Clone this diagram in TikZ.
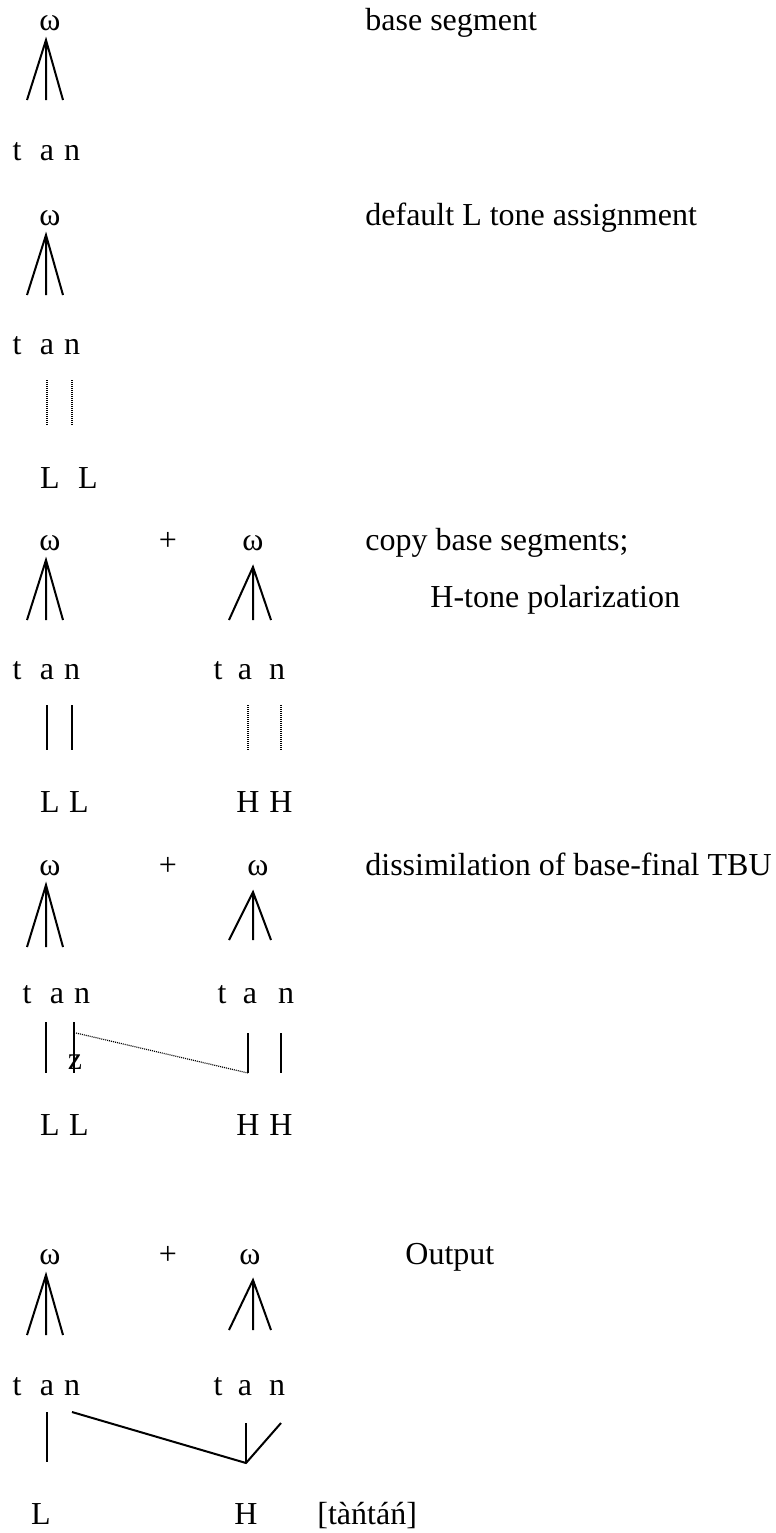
\documentclass[tikz,border=0pt]{standalone}
\usepackage{fontspec}
\setmainfont{Liberation Serif}
\begin{document}
\begin{tikzpicture}[x=0.5pt,y=-0.5pt,
    every node/.style={inner sep=0pt,anchor=base,font=\fontsize{16}{19}\selectfont},
    leg/.style={line width=1pt},
    tie/.style={line width=1pt,shorten <=13pt,shorten >=31pt},
    dottie/.style={tie,line width=0.6pt,dash pattern=on 0.5pt off 0.5pt}]
    \useasboundingbox (0,0) rectangle (776,1533);
    % omega, plus, segments, tones
    \foreach \n/\x/\y in {w1/50/30, w2/50/225, w3/50/550, w3r/253/550, w4/50/875, w4r/258/875, w5/50/1264, w5r/250/1264} {%
      \node (\n) at (\x,\y) {ω};%
    }
    \foreach \n/\y in {p3/550, p4/875, p5/1264} {%
      \node (\n) at (168,\y) {+};%
    }
    \foreach \s/\x/\y in {1/0/160, 2/0/354, 3/0/679, 4/10/1003, 5/0/1395} {%
      \node (t\s) at (17+\x,\y) {t};%
      \node (a\s) at (47+\x,\y) {a};%
      \node (n\s) at (72+\x,\y) {n};%
    }
    \foreach \s/\xt/\xa/\xn/\y in {3/218/245/277/679, 4/222/250/286/1003, 5/218/245/277/1395} {%
      \node (t\s r) at (\xt,\y) {t};%
      \node (a\s r) at (\xa,\y) {a};%
      \node (n\s r) at (\xn,\y) {n};%
    }
    \foreach \n/\x/\y/\t in {L2a/50/488/L, L2b/88/488/L, L3a/50/812/L, L3b/79/812/L, H3a/248/812/H, H3b/281/812/H,
        L4a/50/1135/L, L4b/79/1135/L, H4a/248/1135/H, H4b/281/1135/H, L5/41/1524/L, H5/246/1524/H} {%
      \node (\n) at (\x,\y) {\t};%
    }
    % trees
    \foreach \s/\x/\y/\h/\l/\r in {1/46/40/60/19/17, 2/46/235/60/19/17, 3/46/560/60/19/17, 4/46/885/62/19/17,
        5/46/1275/60/19/17, 3r/253/567/53/24/18, 4r/253/892/48/24/18, 5r/253/1280/50/24/18} {%
      \coordinate (top\s) at (\x,\y);%
      \draw[leg] (top\s) ++(-\l,\h) -- (top\s) -- ++(\r,\h) (top\s) -- ++(0,\h);%
    }
    % labels
    \node[anchor=base west] (lab1) at (365,30) {base segment};
    \node[anchor=base west] (lab2) at (365,225) {default L tone assignment};
    \node[anchor=base west] (lab3) at (365,550) {copy base segments;};
    \node[anchor=base west] (lab3b) at (430,607) {H-tone polarization};
    \node[anchor=base west] (lab4) at (365,875) {dissimilation of base-final TBU};
    \node[anchor=base west] (lab5) at (405,1264) {Output};
    \node[anchor=base west] (form) at (317,1524) {[tàńtáń]};
    % association lines
    \draw[dottie] (a2.base) -- (a2.base |- L2a.base);
    \draw[dottie] (n2.base) -- (n2.base |- L2b.base);
    \draw[tie] (a3.base) -- (a3.base |- L3a.base);
    \draw[tie] (n3.base) -- (n3.base |- L3b.base);
    \draw[dottie] (H3a.base |- a3r.base) -- (H3a.base);
    \draw[dottie] (H3b.base |- a3r.base) -- (H3b.base);
    \path ([xshift=-5.5pt]a4.base) coordinate (a4x) ([xshift=-4pt]n4.base) coordinate (n4x);
    \draw[tie,shorten <=9.5pt] (a4x) -- (a4x |- L4a.base);
    \draw[tie,shorten <=9.5pt] (n4x) -- (n4x |- L4b.base);
    \draw[tie,shorten <=15pt] (H4a.base |- a4r.base) -- (H4a.base);
    \draw[tie,shorten <=15pt] (H4b.base |- a4r.base) -- (H4b.base);
    \path ([yshift=31pt]H4a.base) coordinate (j4) ([xshift=1pt,yshift=-15pt]n4x) coordinate (k4);
    \draw[dottie,shorten <=0pt,shorten >=0pt] (k4) -- (j4);
    \node (z4) at (75,1069) {z};
    \draw[tie,shorten <=8.5pt] (a5.base) -- (a5.base |- L5.base);
    \path ([yshift=30.5pt]H5.base) coordinate (j5);
    \draw[leg] ([yshift=-8.5pt]n5.base) -- (j5) -- ([xshift=2pt,yshift=-14pt]n5r.base);
    \draw[leg,shorten <=14pt] (H5.base |- a5r.base) -- (j5);
\end{tikzpicture}
\end{document}
